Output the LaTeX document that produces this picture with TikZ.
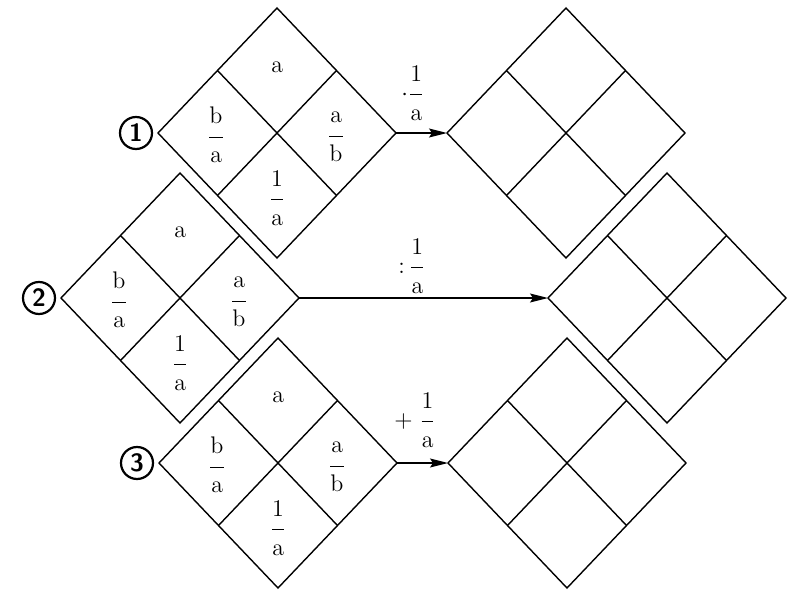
\documentclass[tikz,border=0pt]{standalone}
\usepackage{amsmath}
\usetikzlibrary{arrows.meta}
\newcommand{\fr}[2]{\dfrac{\raisebox{0.12em}{$\mathrm{#1}$}}{\raisebox{-0.12em}{$\mathrm{#2}$}}}
\newcommand{\gridlines}{%
  \coordinate (-t) at (0,-125);
  \coordinate (-r) at (119,0);
  \coordinate (-b) at (0,125);
  \coordinate (-l) at (-119,0);
  \draw[ln] (-t) -- (-r) -- (-b) -- (-l) -- cycle;
  \draw[ln] (-59.5,-62.5) -- (59.5,62.5);
  \draw[ln] (59.5,-62.5) -- (-59.5,62.5);
}
\tikzset{
  ln/.style={line width=0.7pt, line join=miter},
  cell/.style={font=\fontsize{13}{15}\selectfont, inner sep=0pt},
  oplab/.style={font=\fontsize{13}{15}\selectfont, inner sep=0pt},
  num/.style={circle, draw, line width=1.1pt, minimum size=16pt, inner sep=0pt,
              font=\sffamily\bfseries\fontsize{12.5}{13}\selectfont},
  conn/.style={line width=0.7pt, -{Stealth[length=9pt,width=4.5pt,inset=1.5pt]}},
  emptygrid/.pic={\gridlines},
  labgrid/.pic={\gridlines
    \node[cell] (-a)  at (0,-66)  {$\mathrm{a}$};
    \node[cell] (-ba) at (-61,2)  {$\fr{b}{a}$};
    \node[cell] (-ab) at (59,4)   {$\fr{a}{b}$};
    \node[cell] (-oa) at (0,65)   {$\fr{1}{a}$};
  }
}
\begin{document}
\begin{tikzpicture}[x=0.5pt,y=-0.5pt]
  \useasboundingbox (0,0) rectangle (800,600);
  % left diamonds
  \pic (L1) at (277,133) {labgrid};
  \pic (L2) at (180,298) {labgrid};
  \pic (L3) at (278,463) {labgrid};
  % right diamonds
  \pic (R1) at (566,133) {emptygrid};
  \pic (R2) at (667,298) {emptygrid};
  \pic (R3) at (567,463) {emptygrid};
  % circled numbers
  \node[num] (n1) at (136,133) {1};
  \node[num] (n2) at (39,298) {2};
  \node[num] (n3) at (137,463) {3};
  % arrows
  \draw[conn] (L1-r) -- (R1-l);
  \draw[conn] (L2-r) -- (R2-l);
  \draw[conn] (L3-r) -- (R3-l);
  % operation labels
  \node[oplab] (op1) at (413,93)  {$\cdot\fr{1}{a}$};
  \node[oplab] (op2) at (412,266) {${:}\,\fr{1}{a}$};
  \node[oplab] (op3) at (415,420) {${+}\;\fr{1}{a}$};
\end{tikzpicture}
\end{document}
